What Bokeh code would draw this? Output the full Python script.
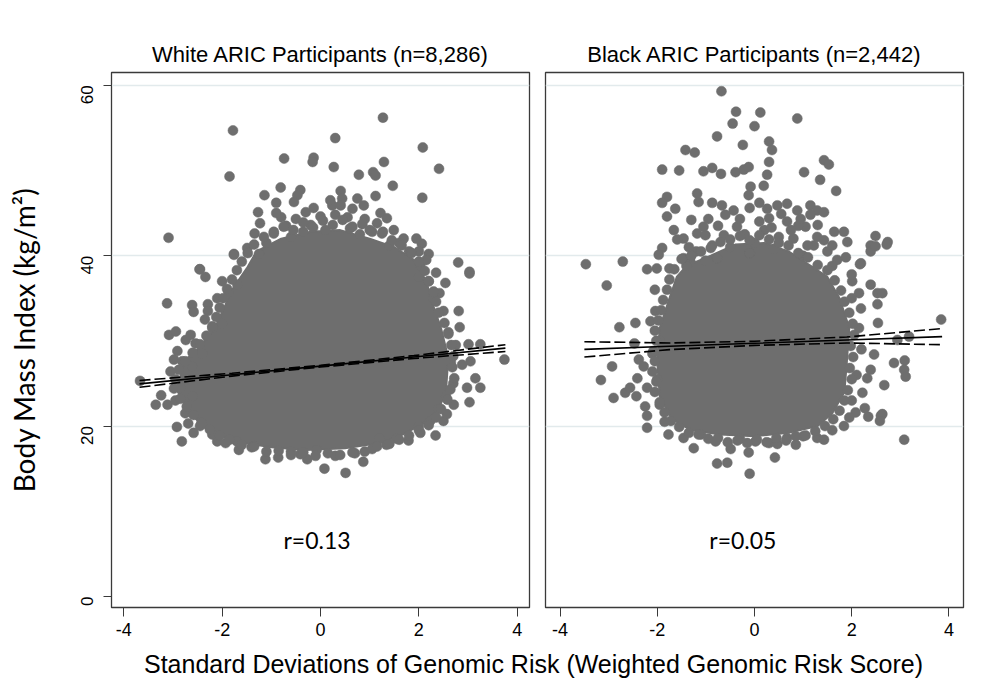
import math
from bokeh.plotting import figure
from bokeh.layouts import column, row
from bokeh.models import Range1d, FixedTicker
from bokeh.core.properties import value
from bokeh.embed import file_html
from bokeh.resources import INLINE

# ---------------- data ----------------
titles = ["White ARIC Participants (n=8,286)", "Black ARIC Participants (n=2,442)"]
r_labels = ["r=0.13", "r=0.05"]
x_ticks = [-4, -2, 0, 2, 4]
x_tick_labels = ["-4", "-2", "0", "2", "4"]
y_ticks = [0, 20, 40, 60]
y_tick_labels = ["0", "20", "40", "60"]
y_label = "Body Mass Index (kg/m\u00b2)"
x_label = "Standard Deviations of Genomic Risk (Weighted Genomic Risk Score)"

# White participants: individual points visible outside the dense cloud
white_pts = [
    (-1.78, 54.7), (-1.85, 49.3), (-3.09, 42.1), (1.27, 56.2), (0.30, 53.8), (2.08, 52.7), (2.41, 50.2),
    (1.29, 51.0), (-0.74, 51.4), (-0.14, 51.5), (-0.16, 51.0), (0.27, 50.4), (0.78, 49.5), (1.07, 49.8),
    (1.12, 49.4), (1.47, 48.2), (2.07, 46.8), (-0.81, 48.0), (-1.14, 47.1), (-0.90, 46.2), (-0.41, 47.7),
    (-0.47, 47.1), (-0.54, 46.3), (-1.27, 45.1), (-1.23, 43.8), (-1.34, 42.6), (-1.49, 40.9), (-1.76, 40.2),
    (-2.45, 38.4), (0.41, 47.6), (0.44, 46.7), (0.75, 46.7), (0.88, 45.9), (1.12, 47.0), (0.24, 45.9),
    (0.41, 45.9), (-0.14, 45.6), (-0.30, 45.1), (1.22, 45.0), (1.35, 44.4), (1.69, 42.0), (2.06, 41.4),
    (2.80, 39.2), (3.03, 38.1), (2.03, 38.9), (2.20, 40.2), (1.27, 42.8), (1.49, 43.0),
    (-1.10, 41.5), (-0.95, 42.8), (-0.70, 43.5), (-0.60, 42.2), (-0.50, 44.3), (-0.20, 43.6), (0.00, 44.6),
    (0.10, 43.0), (0.30, 44.8), (0.55, 44.5), (0.60, 43.2), (0.90, 44.3), (1.00, 43.0), (1.15, 43.8),
    (1.60, 41.5), (1.80, 40.5), (2.00, 40.5), (-1.25, 40.2), (-0.35, 42.8), (0.80, 42.5), (-0.80, 44.5),
    (0.20, 46.5), (0.65, 45.5), (-0.90, 45.0), (1.95, 42.0), (2.15, 39.5), (1.40, 41.2),
    (-1.76, 40.1), (-2.46, 38.4), (-2.34, 37.5), (-2.00, 37.0), (-1.87, 35.7), (-1.69, 36.6), (-3.67, 25.3),
    (-3.05, 26.4), (-2.98, 27.8), (-2.91, 28.8), (-3.08, 30.7), (-2.94, 31.1), (-3.12, 34.4), (-2.61, 34.2),
    (-2.58, 33.4), (-2.29, 34.3), (-2.29, 33.5), (-2.74, 30.1), (-2.64, 30.7), (-2.54, 29.7), (-2.61, 27.0),
    (-2.81, 27.6), (-3.35, 22.5), (-3.11, 22.5), (-3.24, 23.6), (-2.92, 19.9), (-2.69, 20.3), (-2.58, 19.2),
    (-2.82, 18.2), (-2.10, 18.2), (-1.93, 18.0), (-1.66, 17.2), (-1.12, 16.1), (-0.86, 16.3), (-0.27, 16.1),
    (-0.41, 16.7), (-0.08, 17.2), (0.08, 15.0), (0.51, 14.5), (0.87, 15.8), (1.05, 17.3), (1.34, 17.8),
    (1.79, 18.3), (2.03, 19.2), (2.34, 18.9), (2.23, 20.6), (2.50, 20.6), (2.57, 21.4), (2.71, 22.5),
    (3.03, 22.8), (2.98, 24.5), (3.25, 24.5), (3.15, 25.6), (2.88, 27.2), (3.05, 27.6), (3.74, 27.8),
    (3.01, 29.6), (3.25, 29.6), (2.83, 31.6), (2.81, 33.5), (2.42, 35.6), (2.54, 36.8), (3.03, 37.9),
    (-2.20, 31.5), (-2.40, 28.5), (-2.45, 26.0), (-2.70, 25.5), (-2.85, 24.5), (-2.95, 23.0), (-2.60, 23.5),
    (-2.35, 32.5), (-2.10, 35.0), (-2.00, 32.0), (-2.75, 21.5), (-2.45, 20.0), (-2.20, 19.0), (-1.70, 18.2),
    (-1.40, 17.5), (-0.60, 17.0), (0.30, 16.5), (0.70, 16.8), (1.20, 18.5), (1.55, 18.5), (2.00, 20.0),
    (2.40, 22.0), (2.55, 23.5), (2.70, 25.0), (2.65, 27.5), (2.75, 29.5), (2.60, 31.0), (2.50, 33.5),
    (2.30, 35.0), (2.20, 37.0), (2.35, 38.0), (2.00, 37.5),
]
# White participants: points forming the ragged rim of the dense cloud
white_rim = [
    (-1.35, 41.3), (-1.15, 42.2), (-0.95, 42.6), (-0.75, 43.4), (-0.55, 43.0), (-0.35, 43.9), (-0.15, 43.3),
    (0.05, 44.1), (0.25, 43.6), (0.45, 44.2), (0.65, 43.4), (0.85, 43.7), (1.05, 42.8), (1.25, 42.6),
    (1.45, 41.8), (1.65, 41.2), (1.85, 40.3), (2.00, 39.3), (2.12, 38.2), (2.20, 37.0), (2.30, 35.8),
    (2.35, 34.6), (2.40, 33.3), (2.52, 32.1), (2.60, 30.8), (2.66, 29.5), (2.70, 28.2), (2.68, 26.9),
    (2.72, 25.6), (2.64, 24.3), (2.58, 23.1), (2.45, 22.0), (2.35, 21.0), (2.20, 20.1), (2.00, 19.5),
    (1.80, 18.9), (1.60, 18.4), (1.40, 17.9), (1.15, 17.6), (0.90, 17.0), (0.65, 16.9), (0.40, 16.6),
    (0.15, 16.8), (-0.10, 16.5), (-0.35, 16.9), (-0.60, 16.6), (-0.85, 17.1), (-1.10, 17.0), (-1.35, 17.6),
    (-1.60, 17.8), (-1.85, 18.4), (-2.05, 18.9), (-2.25, 19.6), (-2.42, 20.4), (-2.58, 21.3), (-2.72, 22.3),
    (-2.85, 23.2), (-2.98, 24.4), (-2.95, 25.5), (-2.88, 26.6), (-2.75, 27.6), (-2.60, 28.6), (-2.45, 29.6),
    (-2.32, 30.6), (-2.20, 31.7), (-2.12, 32.8), (-2.05, 33.9), (-1.98, 35.0), (-1.90, 36.1), (-1.80, 37.2),
    (-1.70, 38.3), (-1.60, 39.3), (-1.48, 40.3),
]
# White participants: outline of the solid (fully overlapping) core of the cloud
white_core = [
    (-1.3, 40.5), (-0.8, 42.0), (-0.2, 42.8), (0.4, 43.0), (1.0, 42.0), (1.5, 41.0), (1.9, 39.5),
    (2.15, 37.0), (2.3, 34.0), (2.45, 31.5), (2.6, 28.0), (2.55, 24.0), (2.4, 22.0), (2.1, 20.3),
    (1.6, 18.8), (1.2, 18.0), (0.5, 17.4), (-0.3, 17.2), (-1.0, 17.5), (-1.75, 18.2), (-2.3, 19.5),
    (-2.65, 21.5), (-2.9, 24.0), (-2.8, 27.5), (-2.5, 29.0), (-2.15, 31.5), (-1.95, 34.0), (-1.8, 36.0),
    (-1.5, 38.5),
]
# White participants: linear fit and its 95% band
white_fit_x = [-3.68, -1.8, 0.0, 1.9, 3.76]
white_fit = [24.95, 26.03, 27.03, 28.10, 29.15]
white_hi = [25.35, 26.20, 27.13, 28.27, 29.55]
white_lo = [24.55, 25.86, 26.93, 27.93, 28.75]

# Black participants
black_pts = [
    (-0.68, 59.3), (-0.38, 56.9), (0.12, 56.8), (-0.45, 55.5), (0.00, 55.2), (0.88, 56.1), (-0.77, 54.0),
    (-0.24, 53.0), (0.30, 53.4), (0.36, 52.4), (-1.42, 52.4), (-1.23, 52.1), (1.43, 51.2), (1.53, 50.7),
    (0.30, 51.0), (0.26, 49.5), (-1.90, 50.1), (-1.55, 50.0), (-1.05, 49.9), (-0.87, 50.3), (-0.69, 49.6),
    (-0.39, 49.8), (-0.22, 50.1), (-0.12, 50.4), (1.02, 49.8), (1.35, 48.9), (1.68, 47.6), (-0.08, 48.1),
    (0.19, 48.2), (-0.12, 47.1), (-1.80, 46.9), (-1.90, 46.2), (-1.18, 47.3), (-1.15, 46.3), (-0.87, 46.2),
    (-0.67, 45.9), (-0.43, 45.3), (-1.63, 45.5), (-1.80, 44.6), (0.26, 45.5), (0.47, 45.9), (0.67, 46.1),
    (0.88, 45.3), (1.15, 45.9), (1.29, 45.3), (1.43, 45.1), (0.30, 44.4), (0.67, 44.0), (1.15, 44.8),
    (-1.66, 43.0), (-1.46, 42.0), (-1.59, 41.9), (-1.18, 42.6), (-1.05, 43.4), (-1.01, 42.4), (-0.87, 41.2),
    (-0.63, 42.4), (-0.36, 43.4), (1.64, 42.8), (1.84, 42.8), (1.91, 41.6), (1.29, 42.2), (1.22, 41.2),
    (1.43, 41.8), (1.05, 43.4), (1.09, 41.2), (2.49, 42.3), (2.74, 41.6), (2.39, 41.2), (2.19, 39.1),
    (1.88, 39.8), (-3.47, 39.0), (-2.71, 39.3), (-1.90, 40.9), (-1.97, 40.1), (-1.46, 39.7), (-1.32, 39.3),
    (-1.01, 39.4), (-0.77, 39.7),
    (-0.50, 41.0), (-0.20, 42.5), (0.00, 41.5), (0.20, 43.0), (0.50, 42.2), (0.80, 42.0), (0.10, 44.0),
    (-0.10, 40.3), (0.40, 40.8), (1.00, 40.0), (1.50, 40.5), (-0.30, 44.3), (0.90, 43.5), (-1.20, 40.5),
    (1.70, 39.5), (-0.95, 44.3), (-0.60, 44.8), (-0.10, 45.6), (0.10, 46.2), (0.55, 44.9), (0.95, 44.3),
    (1.30, 43.6), (-1.30, 44.2), (-1.35, 41.0), (-0.75, 43.5), (0.35, 43.3), (0.75, 43.0), (1.60, 41.2),
    (-3.04, 36.5), (-2.21, 38.4), (-2.01, 38.5), (-2.78, 31.6), (-2.45, 32.1), (-2.47, 29.7), (-2.04, 33.5),
    (-2.14, 32.3), (-2.93, 27.0), (-3.16, 25.4), (-2.90, 23.3), (-2.66, 23.9), (-2.43, 23.5), (-2.56, 24.5),
    (-2.38, 27.8), (-2.28, 27.0), (-2.41, 25.6), (-2.21, 24.5), (-2.25, 22.3), (-2.21, 21.2), (-2.21, 19.8),
    (-1.77, 19.0), (-1.46, 18.6), (-1.25, 17.4), (-0.77, 15.6), (-0.56, 15.7), (-0.49, 17.3), (-0.12, 16.9),
    (0.02, 18.2), (-0.10, 14.4), (0.42, 16.3), (0.47, 17.9), (0.85, 17.8), (0.67, 18.6), (1.29, 18.6),
    (1.43, 18.4), (1.84, 20.0), (2.08, 21.6), (2.34, 21.1), (2.27, 22.1), (2.60, 21.2), (2.63, 21.4),
    (2.58, 20.6), (2.67, 24.8), (3.08, 18.4), (2.87, 27.4), (3.09, 27.7), (3.08, 26.6), (3.11, 25.8),
    (2.94, 30.1), (3.18, 30.5), (3.84, 32.5), (2.54, 32.1), (2.53, 34.3), (2.39, 36.6), (2.53, 35.6),
    (2.63, 35.6), (2.17, 39.0), (2.39, 40.5), (2.49, 41.1), (2.72, 41.3), (2.01, 37.0), (2.15, 35.6),
    (2.19, 33.8), (2.46, 28.4), (2.39, 26.6), (2.32, 25.6), (2.22, 23.9),
    (-2.05, 36.0), (-1.95, 30.0), (-2.10, 28.5), (-2.00, 25.5), (-1.95, 22.5), (-1.85, 20.5), (-1.10, 19.0),
    (-0.80, 18.2), (-0.30, 18.5), (0.30, 18.0), (1.00, 18.8), (1.60, 19.5), (1.95, 21.0), (2.00, 23.0),
    (2.10, 26.0), (2.20, 29.0), (2.15, 31.5), (2.00, 35.0), (2.00, 37.8), (1.60, 38.8), (-1.75, 38.5),
    (-1.40, 38.8),
]
black_rim = [
    (-1.50, 39.6), (-1.30, 40.0), (-1.10, 40.5), (-0.90, 40.9), (-0.70, 41.6), (-0.50, 41.9), (-0.30, 42.3),
    (-0.10, 41.8), (0.10, 42.4), (0.30, 41.9), (0.50, 41.5), (0.70, 41.2), (0.90, 40.3), (1.10, 39.8),
    (1.30, 38.9), (1.50, 38.3), (1.65, 37.1), (1.78, 35.9), (1.85, 34.6), (1.95, 33.3), (2.02, 32.0),
    (2.05, 30.7), (1.98, 29.4), (2.03, 28.1), (1.96, 26.8), (2.00, 25.5), (1.92, 24.2), (1.85, 23.0),
    (1.75, 21.8), (1.62, 20.8), (1.45, 20.0), (1.25, 19.4), (1.05, 18.9), (0.85, 18.8), (0.65, 18.3),
    (0.45, 18.6), (0.25, 18.1), (0.05, 18.4), (-0.15, 18.0), (-0.35, 18.3), (-0.55, 18.1), (-0.75, 18.6),
    (-0.95, 18.5), (-1.15, 19.0), (-1.35, 19.2), (-1.55, 19.9), (-1.72, 20.6), (-1.85, 21.6), (-1.95, 22.8),
    (-2.05, 24.0), (-2.02, 25.2), (-2.10, 26.4), (-2.05, 27.6), (-2.08, 28.8), (-2.02, 30.0), (-2.05, 31.2),
    (-1.98, 32.4), (-1.92, 33.6), (-1.88, 34.8), (-1.80, 36.0), (-1.75, 37.2), (-1.65, 38.4),
]
black_core = [
    (-1.4, 38.8), (-0.9, 40.0), (-0.4, 41.3), (0.2, 41.5), (0.7, 40.5), (1.1, 39.0), (1.5, 37.5),
    (1.75, 35.0), (1.95, 31.5), (1.9, 27.5), (1.85, 24.0), (1.6, 21.5), (1.3, 20.0), (0.7, 19.2),
    (0.0, 18.8), (-0.7, 19.0), (-1.3, 19.5), (-1.7, 20.8), (-1.95, 23.5), (-2.0, 27.5), (-1.95, 31.5),
    (-1.75, 35.0), (-1.6, 37.5),
]
black_fit_x = [-3.5, -1.75, 0.0, 1.9, 3.86]
black_fit = [29.00, 29.36, 29.71, 30.10, 30.50]
black_hi = [29.90, 29.75, 29.95, 30.45, 31.45]
black_lo = [28.10, 28.97, 29.47, 29.75, 29.55]

# ---------------- styling ----------------
DOT = "#6e6e6e"
GRID = "#e2eaec"
FRAME = "#3a3a3a"
SANS = "Liberation Sans"
CAL_FONT = "Lato"


def panel(idx, pts, rim, core, fx, fit, hi, lo, r_xy, first):
    p = figure(
        width=537 if first else 450, height=647,
        x_range=Range1d(-4.25, 4.25) if first else Range1d(-4.3, 4.3),
        y_range=Range1d(-1.3, 61.5),
        output_backend="svg", toolbar_location=None,
        title=titles[idx],
        min_border_left=111 if first else 8,
        min_border_right=8 if first else 24,
        min_border_top=72, min_border_bottom=40,
    )
    p.background_fill_color = "white"
    p.border_fill_color = "white"
    p.outline_line_color = FRAME
    p.outline_line_width = 1.3

    p.title.align = "center"
    p.title.text_font = SANS
    p.title.text_font_size = "22px"
    p.title.text_font_style = "normal"
    p.title.text_color = "black"
    p.title.standoff = 12

    p.xgrid.visible = False
    p.ygrid.ticker = FixedTicker(ticks=y_ticks[1:])
    p.ygrid.grid_line_color = GRID
    p.ygrid.grid_line_width = 1.5

    p.xaxis.ticker = FixedTicker(ticks=x_ticks)
    p.xaxis.major_label_overrides = dict(zip(x_ticks, x_tick_labels))
    p.xaxis.minor_tick_line_color = None
    p.xaxis.major_tick_out = 9
    p.xaxis.major_tick_in = 0
    p.xaxis.major_tick_line_color = FRAME
    p.xaxis.axis_line_color = FRAME
    p.xaxis.major_label_text_font = SANS
    p.xaxis.major_label_text_font_size = "18px"
    p.xaxis.major_label_text_color = "black"
    p.xaxis.major_label_standoff = 6

    if first:
        p.yaxis.ticker = FixedTicker(ticks=y_ticks)
        p.yaxis.major_label_overrides = dict(zip(y_ticks, y_tick_labels))
        p.yaxis.minor_tick_line_color = None
        p.yaxis.major_tick_out = 8
        p.yaxis.major_tick_in = 0
        p.yaxis.major_tick_line_color = FRAME
        p.yaxis.axis_line_color = FRAME
        p.yaxis.major_label_orientation = math.pi / 2
        p.yaxis.major_label_text_font = SANS
        p.yaxis.major_label_text_font_size = "17px"
        p.yaxis.major_label_text_color = "black"
        p.yaxis.major_label_standoff = 16
        p.yaxis.axis_label = y_label
        p.yaxis.axis_label_text_font = CAL_FONT
        p.yaxis.axis_label_text_font_size = "28px"
        p.yaxis.axis_label_text_font_style = "normal"
        p.yaxis.axis_label_text_color = "black"
        p.yaxis.axis_label_standoff = 32
    else:
        p.yaxis.visible = False

    p.patch([c[0] for c in core], [c[1] for c in core], fill_color=DOT, line_color=DOT, line_width=2)
    allp = pts + rim
    p.scatter([q[0] for q in allp], [q[1] for q in allp], size=10, fill_color=DOT, line_color=DOT,
              line_width=0.5)

    p.line(fx, hi, line_color="black", line_width=1.6, line_dash="11 4")
    p.line(fx, lo, line_color="black", line_width=1.6, line_dash="11 4")
    p.line(fx, fit, line_color="black", line_width=1.6)

    p.text(x=[r_xy[0]], y=[r_xy[1]], text=[r_labels[idx]], text_align="center", text_baseline="middle",
           text_font=value(CAL_FONT), text_font_size="23px", text_color="black")
    return p


p1 = panel(0, white_pts, white_rim, white_core, white_fit_x, white_fit, white_hi, white_lo, (-0.07, 6.6), True)
p2 = panel(1, black_pts, black_rim, black_core, black_fit_x, black_fit, black_hi, black_lo, (-0.24, 6.6), False)

p3 = figure(width=987, height=51, x_range=Range1d(0, 987), y_range=Range1d(0, 51),
            output_backend="svg", toolbar_location=None, min_border=0)
p3.axis.visible = False
p3.grid.visible = False
p3.outline_line_color = None
p3.text(x=[533], y=[35], text=[x_label], text_align="center", text_baseline="middle",
        text_font=value(SANS), text_font_size="25px", text_color="black")

layout = column(row(p1, p2, spacing=0), p3, spacing=0)
open("out.html", "w").write(file_html(layout, INLINE))
